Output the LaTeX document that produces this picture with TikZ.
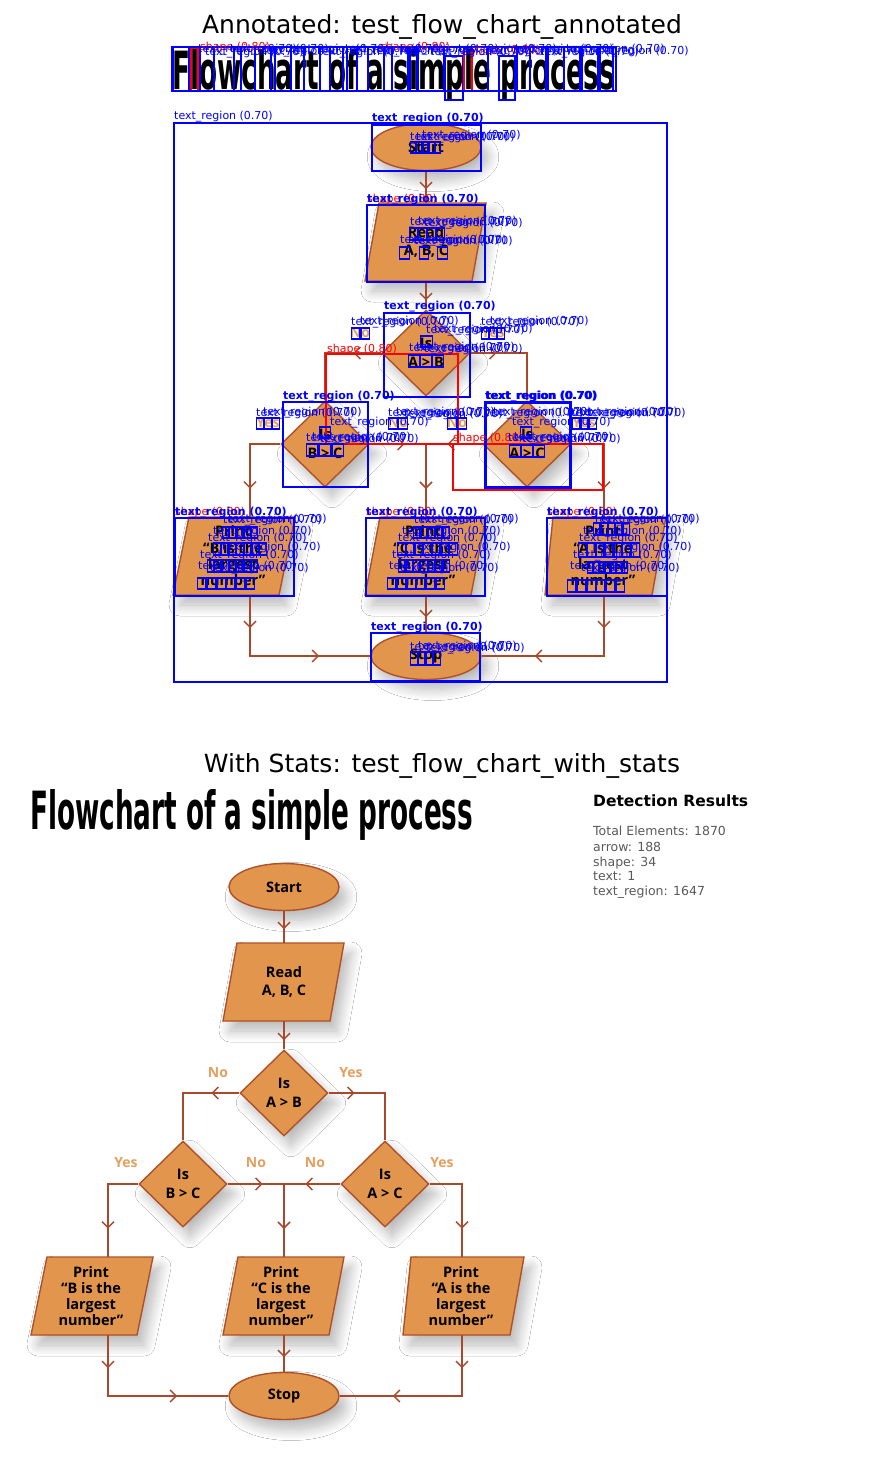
\documentclass[tikz,border=0pt]{standalone}
\usepackage{graphicx}
\usepackage{fontspec}
\setmainfont{DejaVu Sans}
\newfontfamily\shapefont{Open Sans}
\newfontfamily\titlefont{DejaVu Sans}
\usetikzlibrary{shapes.geometric,arrows.meta,decorations.markings,calc,shadows.blur}
\definecolor{fillO}{RGB}{226,149,76}
\definecolor{edgeO}{RGB}{176,80,40}
\definecolor{lineO}{RGB}{168,72,44}
\definecolor{labO}{RGB}{228,160,96}
\definecolor{annblue}{RGB}{0,0,255}
\definecolor{annred}{RGB}{255,0,0}
\definecolor{statgray}{RGB}{90,90,90}
\tikzset{
  shd/.style={blur shadow={shadow xshift=7pt, shadow yshift=-10pt, shadow blur radius=11pt, shadow blur steps=14, shadow opacity=28}},
  sfont/.style={font=\shapefont\bfseries\fontsize{14.5}{16.5}\selectfont},
  term/.style={ellipse, draw=edgeO, fill=fillO, line width=1.4pt, minimum width=110pt, minimum height=47pt, inner sep=0pt, shd, sfont},
  dec/.style={diamond, draw=edgeO, fill=fillO, line width=1.4pt, minimum width=88pt, minimum height=86pt, inner sep=0pt, shd, align=center, sfont},
  pshape/.style={draw=edgeO, fill=fillO, line width=1.4pt, shd},
  ptext/.style={minimum width=100pt, minimum height=78pt, inner sep=0pt, align=center, font=\shapefont\bfseries\fontsize{14.5}{16.3}\selectfont},
  ylab/.style={text=labO, font=\shapefont\bfseries\fontsize{14}{16}\selectfont, inner sep=0pt},
  conn/.style={lineO, line width=1.5pt},
  mk/.style={postaction={decorate, decoration={markings, mark=at position #1 with {\arrow{Straight Barb[length=6pt,width=12pt]}}}}},
  ab/.style={draw=annblue, line width=2pt},
  abt/.style={draw=annblue, line width=1.3pt},
  ar/.style={draw=annred, line width=2pt},
  cb/.style={draw=annblue, line width=1.6pt},
  lb/.style={text=annblue, font=\fontsize{11}{11}\selectfont, anchor=base west, inner sep=0pt},
  lbb/.style={lb, font=\bfseries\fontsize{11}{11}\selectfont},
  lr/.style={lb, text=annred},
  stat/.style={anchor=base west, inner sep=0pt, text=statgray, font=\fontsize{12.5}{12.5}\selectfont},
}
\newcommand\cboxes[5]{%
  \pgfmathsetmacro\cw{(#3-#1)/#5}%
  \foreach \k in {1,...,#5}{\draw[cb] ({#1+(\k-1)*\cw+0.4},#2) rectangle ({#1+\k*\cw-0.4},#4);}%
}
\newcommand\flowbody{%
  \node[anchor=base west, inner sep=0pt] (title) at (30,829) {\resizebox{443pt}{40pt}{\titlefont\bfseries Flowchart of a simple process}};
  \node[term] (start) at (284,887) {Start};
  \path[pshape] (223,1021) -- (330,1021) -- (344,943) -- (237,943) -- cycle;
  \node[ptext] (read) at (284,982) {Read\\[2.5pt]A, B, C};
  \node[dec] (d1) at (284,1093) {Is\\[2.5pt]A > B};
  \node[dec] (d2) at (183,1184) {Is\\[2.5pt]B > C};
  \node[dec] (d3) at (385,1184) {Is\\[2.5pt]A > C};
  \path[pshape] (31,1335) -- (137,1335) -- (153,1257) -- (47,1257) -- cycle;
  \node[ptext] (pB) at (91,1296) {Print\\“B is the\\largest\\number”};
  \path[pshape] (223,1335) -- (329,1335) -- (344,1257) -- (238,1257) -- cycle;
  \node[ptext] (pC) at (281,1296) {Print\\“C is the\\largest\\number”};
  \path[pshape] (403,1335) -- (510,1335) -- (524,1257) -- (411,1257) -- cycle;
  \node[ptext] (pA) at (461,1296) {Print\\“A is the\\largest\\number”};
  \node[term] (stop) at (284,1396) {Stop};
  \node[ylab] (no1) at (218,1073) {No};
  \node[ylab] (yes1) at (351,1073) {Yes};
  \node[ylab] (yes2) at (126,1163) {Yes};
  \node[ylab] (no2) at (256,1163) {No};
  \node[ylab] (no3) at (315,1163) {No};
  \node[ylab] (yes3) at (442,1163) {Yes};
  \coordinate (jn) at (d2.east -| d1.south);
  \draw[conn, mk=18pt] (start.south) -- (start.south |- read.north);
  \draw[conn, mk=19pt] (read.south) -- (d1.north);
  \draw[conn, mk=28pt] (d1.west) -| (d2.north);
  \draw[conn, mk=26pt] (d1.east) -| (d3.north);
  \draw[conn, mk=75pt] (d2.west) -| ($(pB.north)+(17,0)$);
  \draw[conn, mk=35pt] (d2.east) -- (jn);
  \draw[conn, mk=35pt] (d3.west) -- (jn);
  \draw[conn, mk=45pt] (jn) -- (jn |- pC.north);
  \draw[conn, mk=77pt] (d3.east) -| ($(pA.north)+(1,0)$);
  \draw[conn, mk=33pt, mk=130pt] ($(pB.south)+(17,0)$) |- (stop.west);
  \draw[conn, mk=22pt] (jn |- pC.south) -- (stop.north);
  \draw[conn, mk=33pt, mk=130pt] ($(pA.south)+(1,0)$) |- (stop.east);
}
\begin{document}
\begin{tikzpicture}[x=1pt,y=-1pt]
\fill[white] (0,0) rectangle (884,1484);
\useasboundingbox (0,0) rectangle (884,1484);
% titles
\node[font=\fontsize{25}{25}\selectfont, anchor=base, inner sep=0pt] (tt1) at (442,33) {Annotated: test\_flow\_chart\_annotated};
\node[font=\fontsize{25}{25}\selectfont, anchor=base, inner sep=0pt] (tt2) at (442,772) {With Stats: test\_flow\_chart\_with\_stats};
% bottom flowchart
\begin{scope}[name prefix=b-]
  \flowbody
\end{scope}
% top flowchart (annotated copy)
\begin{scope}[shift={(142,-740)}, name prefix=t-]
  \flowbody
\end{scope}
% stats
\node[anchor=base west, inner sep=0pt, font=\bfseries\fontsize{15.5}{15.5}\selectfont] (st0) at (593,806) {Detection Results};
\node[stat] (st1) at (593,835) {Total Elements: 1870};
\node[stat] (st2) at (593,851) {arrow: 188};
\node[stat] (st3) at (593,866) {shape: 34};
\node[stat] (st4) at (593,880) {text: 1};
\node[stat] (st5) at (593,895) {text\_region: 1647};
% ---------- annotations ----------
% title letter boxes
\foreach \a/\b in {172.6/188.7, 199.5/213.8, 213.8/233.6, 240.8/255, 255/271, 275/291, 291/303.6, 303.6/319.7, 330/343, 346.6/357.4, 367.5/384, 391.5/407.7, 409.5/416.6, 418.4/443.6, 472/488.4, 517/529.7, 529.7/545.8, 547.6/563.8, 563.8/580, 581.7/598, 599.7/615.8}
  {\draw[ab] (\a,47) rectangle (\b,91);}
\draw[ab] (445,56) rectangle (463,100);
\draw[ab] (499,56) rectangle (515.3,100);
\draw[ar] (190.5,48) rectangle (197.7,91);
\draw[ar] (464,48) rectangle (471.6,91);
\draw[abt] (172,47) rectangle (613,91);
% region boxes
\draw[abt] (174,123) rectangle (667,682);
\draw[ab] (372,125) rectangle (481,171);
\draw[ab] (367,205) rectangle (485,282);
\draw[ab] (384,313) rectangle (470,397);
\draw[ar] (326,354) rectangle (458,444);
\draw[ar] (453,444) rectangle (603,490);
\draw[ab] (283,402) rectangle (368,487);
\draw[ab, line width=3pt] (485,402) rectangle (570,487);
\draw[ab] (175,518) rectangle (294,596);
\draw[ab] (366,518) rectangle (485,596);
\draw[ab] (547,518) rectangle (667,596);
\draw[ab] (371,633) rectangle (480,681);
% character boxes
\cboxes{410}{142}{441}{153}{5}
\cboxes{409}{228}{445}{240}{4}
\cboxes{399}{247}{410}{259}{1}
\cboxes{419}{247}{429}{259}{1}
\cboxes{437}{247}{448}{259}{1}
\cboxes{351}{328}{370}{339}{2}
\cboxes{481}{328}{505}{339}{3}
\cboxes{420}{336}{433}{347}{1}
\cboxes{408}{355}{444}{367}{3}
\cboxes{319}{427}{331}{438}{1}
\cboxes{306}{444}{344}{456}{3}
\cboxes{520}{427}{532}{438}{1}
\cboxes{509}{445}{545}{457}{3}
\cboxes{256}{418}{280}{429}{3}
\cboxes{388}{418}{408}{429}{2}
\cboxes{447}{418}{467}{429}{2}
\cboxes{572}{418}{597}{429}{3}
\cboxes{222}{527}{258}{538}{5}
\cboxes{213}{543}{267}{555}{7}
\cboxes{207}{560}{258}{572}{7}
\cboxes{197}{578}{255}{589}{6}
\cboxes{413}{527}{450}{538}{5}
\cboxes{397}{543}{458}{555}{7}
\cboxes{398}{560}{450}{572}{7}
\cboxes{387}{578}{445}{589}{6}
\cboxes{593}{523}{630}{535}{5}
\cboxes{578}{543}{640}{557}{7}
\cboxes{587}{562}{628}{573}{7}
\cboxes{567}{580}{625}{592}{6}
\cboxes{410}{652}{441}{665}{4}
% red labels
\foreach \x/\y [count=\i] in {200/50, 380/50, 470/53, 327/352, 453/441, 367/202, 175/515, 366/515, 547/515}
  {\node[lr] (r\i) at (\x,\y) {shape (0.80)};}
% thin labels
\foreach \x/\y [count=\i] in {174/119,
  198/52, 205/55, 230/52, 262/54, 290/52, 318/55, 345/52, 372/54, 400/52, 430/55, 458/52, 486/54, 515/52, 540/55, 566/52, 590/54,
  410/140, 416/140, 422/138,
  410/225, 418/224, 424/226, 400/243, 408/243, 414/244,
  351/325, 360/324, 481/325, 490/324, 426/333, 434/332, 409/351, 416/350, 424/352,
  256/416, 263/415, 306/441, 312/440, 320/442, 388/416, 396/415, 404/417, 330/425,
  485/416, 493/415, 571/416, 579/415, 587/416, 508/441, 514/440, 522/442, 512/425,
  223/523, 228/522, 213/534, 208/541, 222/550, 200/558, 198/569, 210/571,
  414/523, 420/522, 402/534, 398/541, 412/550, 392/558, 389/569, 400/571,
  595/523, 601/522, 583/534, 579/541, 593/550, 573/558, 570/569, 581/571,
  410/650, 418/649, 426/651}
  {\node[lb] (l\i) at (\x,\y) {text\_region (0.70)};}
% bold labels
\foreach \x/\y [count=\i] in {372/121, 367/202, 384/309, 283/399, 485/399, 486/399, 175/515, 366/515, 547/515, 371/630}
  {\node[lbb] (bl\i) at (\x,\y) {text\_region (0.70)};}
\end{tikzpicture}
\end{document}
